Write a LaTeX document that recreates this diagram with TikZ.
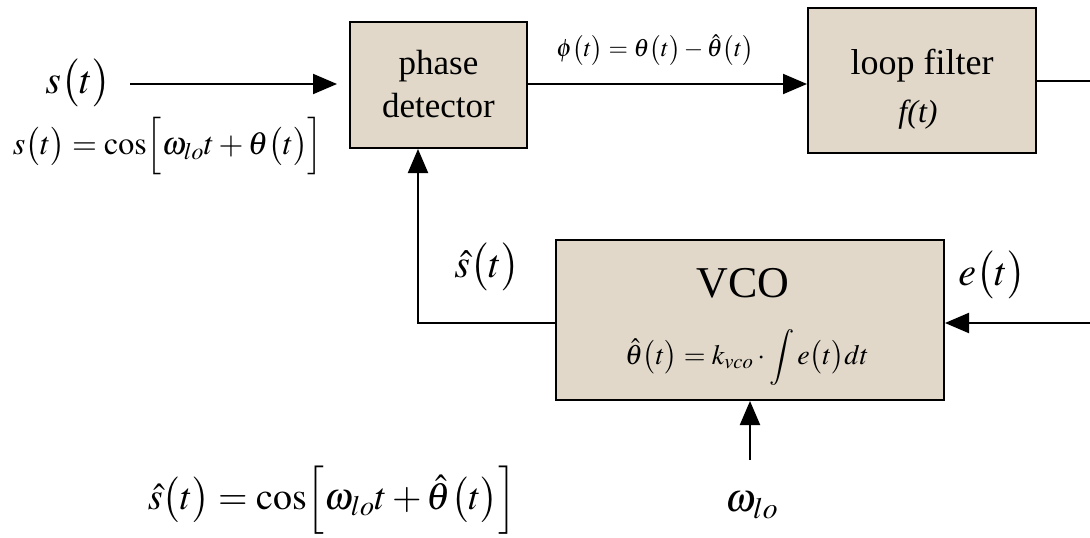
\documentclass[tikz,border=0pt]{standalone}
\usepackage{mathptmx}
\usepackage{fontspec}
\setmainfont{Liberation Serif}
\usetikzlibrary{arrows.meta}
\definecolor{boxfill}{RGB}{225,216,201}
\tikzset{
  blk/.style={draw=black, line width=2pt, fill=boxfill, inner sep=0pt, align=center},
  wire/.style={line width=2pt, line cap=rect},
  arr/.style={line width=2pt, -{Triangle[length=24pt,width=20pt]}},
  lbl/.style={inner sep=0pt, anchor=center}
}
\newcommand{\fs}[1]{\fontsize{#1}{#1}\selectfont}
\begin{document}
\begin{tikzpicture}[x=1pt,y=-1pt]
\useasboundingbox (0,0) rectangle (1090,538);
% blocks
\node[blk, minimum width=177pt, minimum height=126pt] (pd) at (438.5,85) {};
\node[lbl] (pdt1) at (438.5,66) {\fs{35}phase};
\node[lbl] (pdt2) at (438.5,106) {\fs{35}detector};
\node[blk, minimum width=228pt, minimum height=145pt] (lf) at (922,80.5) {};
\node[lbl] (lft1) at (922,66) {\fs{36}loop filter};
\node[lbl] (lft2) at (918,115) {\fs{32}\itshape f(t)};
\node[blk, minimum width=388pt, minimum height=160pt] (vco) at (750,320) {};
\node[lbl] (vcot) at (743,283) {\fs{44}VCO};
\node[lbl] (vcof) at (747,357) {\fs{28}$\hat{\theta}\bigl(t\bigr)=k_{vco}\cdot\displaystyle\int e\bigl(t\bigr)dt$};
% coordinates
\coordinate (sin) at (130,84);
\coordinate (lfout) at (1090,81);
\coordinate (ein) at (1090,323);
\coordinate (fbx) at (418,323);
\coordinate (win) at (750,460);
% connectors
\draw[arr, shorten >=12pt] (sin) -- (pd.west |- sin);
\draw[arr] (pd.east |- 0,84) -- (lf.west |- 0,84);
\draw[wire] (lf.east |- lfout) -- (lfout);
\draw[arr] (ein) -- (vco.east |- ein);
\draw[wire] (vco.west |- fbx) -- (fbx);
\draw[arr] (fbx) -- (pd.south -| fbx);
\draw[arr] (win) -- (vco.south -| win);
% labels
\node[lbl] (ls) at (78,83) {\fs{40}$s\bigl(t\bigr)$};
\node[lbl] (lsf) at (168,146) {\fs{32}$s\bigl(t\bigr)=\cos\Bigl[\omega_{lo}t+\theta\bigl(t\bigr)\Bigr]$};
\node[lbl] (lphi) at (655,50) {\fs{25}$\phi\bigl(t\bigr)=\theta\bigl(t\bigr)-\hat{\theta}\bigl(t\bigr)$};
\node[lbl] (lsh) at (487,267) {\fs{40}$\hat{s}\bigl(t\bigr)$};
\node[lbl] (le) at (992,275) {\fs{40}$e\bigl(t\bigr)$};
\node[lbl] (lw) at (752,505) {\fs{40}$\omega_{lo}$};
\node[lbl] (lshf) at (332,500) {\fs{38}$\hat{s}\bigl(t\bigr)=\cos\Bigl[\omega_{lo}t+\hat{\theta}\bigl(t\bigr)\Bigr]$};
\end{tikzpicture}
\end{document}
